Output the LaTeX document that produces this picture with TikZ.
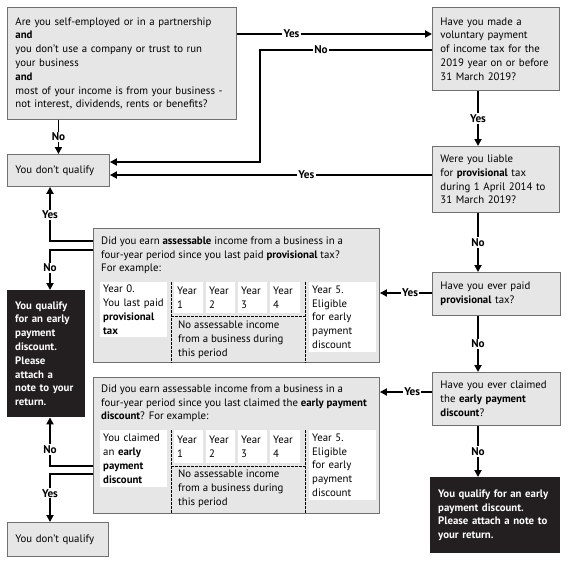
\documentclass[tikz,border=0pt]{standalone}
\usepackage{fontspec}
\setmainfont{PT Sans}
\usetikzlibrary{arrows.meta,calc}
\definecolor{boxgray}{HTML}{E6E6E6}
\definecolor{edgegray}{HTML}{707070}
\definecolor{darkbox}{HTML}{231F20}
\begin{document}
\begin{tikzpicture}[x=1pt,y=-1pt,
  every node/.style={font=\fontsize{10.8}{13.8}\selectfont},
  qbox/.style={draw=edgegray, fill=boxgray, line width=0.9pt, align=left, inner xsep=8pt, inner ysep=2pt, anchor=north west},
  dbox/.style={fill=darkbox, text=white, font=\fontsize{10.8}{13.8}\selectfont\bfseries, align=left, inner xsep=8pt, inner ysep=2pt, anchor=north west},
  cell/.style={fill=white, anchor=north west, align=left, inner xsep=3pt, inner ysep=1pt},
  plain/.style={anchor=north west, align=left, inner sep=0pt},
  conn/.style={line width=1.8pt, draw=black},
  arr/.style={conn, -{Triangle[width=7pt,length=7pt]}},
  lab/.style={fill=white, font=\fontsize{11.2}{13.8}\selectfont\bfseries, inner sep=1.2pt},
  dsh/.style={dash pattern=on 2.5pt off 1.5pt, line width=0.8pt}
]
\useasboundingbox (0,0) rectangle (569,562);

% decision boxes
\node[qbox, text width=213pt, minimum height=112pt] (q1) at (7,7)
 {Are you self-employed or in a partnership\\\textbf{and}\\you don't use a company or trust to run\\your business\\\textbf{and}\\most of your income is from your business -\\not interest, dividends, rents or benefits?};
\node[qbox, text width=111pt, minimum height=83pt] (q2) at (432,7)
 {Have you made a\\voluntary payment\\of income tax for the\\2019 year on or before\\31 March 2019?};
\node[qbox, text width=111pt, minimum height=66pt] (q3) at (432,146)
 {Were you liable\\for \textbf{provisional} tax\\during 1 April 2014 to\\31 March 2019?};
\node[qbox, text width=112pt, minimum height=43pt] (q4) at (432,272)
 {Have you ever paid\\\textbf{provisional} tax?};
\node[qbox, text width=112pt, minimum height=53pt] (q5) at (432,372)
 {Have you ever claimed\\the \textbf{early payment}\\\textbf{discount}?};
\node[dbox, text width=114pt, minimum height=76pt] (k2) at (430,477)
 {You qualify for an early\\payment discount.\\Please attach a note to\\your return.};
\node[dbox, text width=62pt, minimum height=127pt] (k1) at (7,290)
 {You qualify\\for an early\\payment\\discount.\\Please\\attach a\\note to your\\return.};
\node[qbox, text width=86pt, minimum height=32pt] (dq1) at (7,154) {You don't qualify};
\node[qbox, text width=85pt, minimum height=34pt] (dq2) at (7,522) {You don't qualify};

% table A
\node[qbox, minimum width=286pt, minimum height=134pt, inner sep=0pt] (ta) at (93,228) {};
\node[plain] (tatext) at (101,236.5)
 {Did you earn \textbf{assessable} income from a business in a\\four-year period since you last paid \textbf{provisional} tax?\\For example:};
\node[cell, text width=61pt, minimum height=55pt] (ta0) at (100,282)
 {Year 0.\\You last paid\\\textbf{provisional}\\\textbf{tax}};
\node[cell, text width=23pt, minimum height=31pt] (ta1) at (174,282) {Year\\1};
\node[cell, text width=23pt, minimum height=31pt] (ta2) at (206,282) {Year\\2};
\node[cell, text width=23pt, minimum height=31pt] (ta3) at (238,282) {Year\\3};
\node[cell, text width=24pt, minimum height=31pt] (ta4) at (270,282) {Year\\4};
\node[cell, text width=61pt, minimum height=70pt] (ta5) at (309,282)
 {Year 5.\\Eligible\\for early\\payment\\discount};
\node[plain] (tanone) at (178,321)
 {No assessable income\\from a business during\\this period};
\draw[dsh] (171,282) -- (ta.south -| 171,0);
\draw[dsh] (305,282) -- (ta.south -| 305,0);
\draw[dsh] (171,316) -- (305,316);

% table B
\node[qbox, minimum width=286pt, minimum height=136pt, inner sep=0pt] (tb) at (93,377) {};
\node[plain] (tbtext) at (101,384.5)
 {Did you earn assessable income from a business in a\\four-year period since you last claimed the \textbf{early payment}\\\textbf{discount}? For example:};
\node[cell, text width=61pt, minimum height=57pt] (tb0) at (100,430)
 {You claimed\\an \textbf{early}\\\textbf{payment}\\\textbf{discount}};
\node[cell, text width=23pt, minimum height=33pt] (tb1) at (174,430) {Year\\1};
\node[cell, text width=23pt, minimum height=33pt] (tb2) at (206,430) {Year\\2};
\node[cell, text width=23pt, minimum height=33pt] (tb3) at (238,430) {Year\\3};
\node[cell, text width=24pt, minimum height=33pt] (tb4) at (270,430) {Year\\4};
\node[cell, text width=61pt, minimum height=70pt] (tb5) at (309,430)
 {Year 5.\\Eligible\\for early\\payment\\discount};
\node[plain] (tbnone) at (178,470)
 {No assessable income\\from a business during\\this period};
\draw[dsh] (171,430) -- (tb.south -| 171,0);
\draw[dsh] (305,430) -- (tb.south -| 305,0);
\draw[dsh] (171,466) -- (305,466);

% connectors
\coordinate (q1y) at ($(q1.north east)+(0,27)$);
\draw[arr] (q1y) -- node[lab,pos=0.28]{Yes} (q2.west |- q1y);
\coordinate (q2n) at ($(q2.north west)+(0,43)$);
\coordinate (dq1a) at ($(dq1.north east)+(0,8)$);
\draw[arr] (q2n) -- node[lab,pos=0.645]{No} ++(-172,0) |- (dq1a);
\draw[arr] (q1.south -| dq1.north) -- node[lab]{No} (dq1.north);

\coordinate (q2s) at ($(q2.south west)+(46,0)$);
\draw[arr] (q2s) -- node[lab]{Yes} (q3.north -| q2s);
\coordinate (q3y) at ($(q3.north west)+(0,29)$);
\draw[arr] (q3y) -- node[lab,pos=0.39]{Yes} (dq1.east |- q3y);
\draw[arr] (q3.south -| q2s) -- node[lab]{No} (q4.north -| q2s);
\coordinate (q4y) at ($(q4.north west)+(0,21)$);
\draw[arr] (q4y) -- node[lab,pos=0.42]{Yes} (ta.east |- q4y);
\draw[arr] (q4.south -| q2s) -- node[lab]{No} (q5.north -| q2s);
\coordinate (q5y) at ($(q5.north west)+(0,20)$);
\draw[arr] (q5y) -- node[lab,pos=0.38]{Yes} (tb.east |- q5y);
\draw[arr] (q5.south -| q2s) -- node[lab]{No} (k2.north -| q2s);

\coordinate (tay) at ($(ta.north west)+(0,13)$);
\draw[arr] (tay) -| node[lab,pos=0.74]{Yes} ($(dq1.south west)+(43,0)$);
\coordinate (tan) at ($(ta.north west)+(0,22)$);
\draw[arr] (tan) -| node[lab,pos=0.725]{No} ($(k1.north west)+(43,0)$);
\coordinate (tbn) at ($(tb.north west)+(0,89)$);
\draw[arr] (tbn) -| node[lab,pos=0.67]{No} ($(k1.south west)+(43,0)$);
\coordinate (tby) at ($(tb.north west)+(0,97)$);
\draw[arr] (tby) -| node[lab,pos=0.70]{Yes} ($(dq2.north west)+(43,0)$);
\end{tikzpicture}
\end{document}
